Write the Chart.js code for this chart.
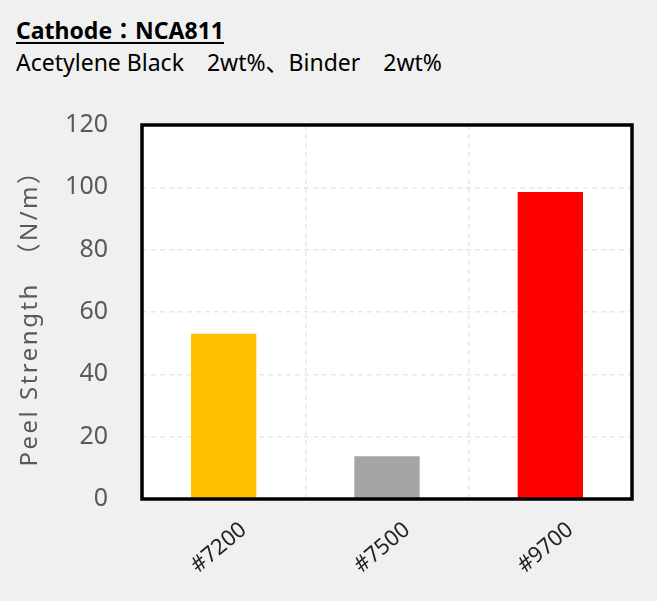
<!DOCTYPE html>
<html><head><meta charset="utf-8">
<script src="https://cdn.jsdelivr.net/npm/chart.js@4.4.1/dist/chart.umd.min.js"></script>
<style>
html,body{margin:0;padding:0;background:#f0f0f0;}
#wrap{position:relative;width:657px;height:601px;}
#t1{position:absolute;left:16px;top:15px;font:bold 23px 'Noto Sans','Noto Sans CJK JP',sans-serif;color:#000;text-decoration:underline;text-underline-offset:3px;white-space:pre;line-height:30px;}
#t2{position:absolute;left:16px;top:47px;font:23px 'Noto Sans','Noto Sans CJK JP',sans-serif;color:#000;white-space:pre;line-height:30px;}
canvas{position:absolute;left:0;top:0;}
</style></head>
<body><div id="wrap">
<div id="t1">Cathode：NCA811</div>
<div id="t2">Acetylene Black　2wt%、Binder　2wt%</div>
<canvas id="c" width="657" height="601"></canvas>
</div>
<script>
const categories = ['#7200', '#7500', '#9700'];
const peelStrength = [53, 13.7, 98.5];
const barColors = ['#FFC000', '#A5A5A5', '#FF0000'];
const yTicks = [0, 20, 40, 60, 80, 100, 120];
const yTitle = 'Peel Strength　（N/m）';
const FONT = "'Noto Sans','Noto Sans CJK JP',sans-serif";

const plotFrame = {
  id: 'plotFrame',
  beforeDraw(chart) {
    const a = chart.chartArea, ctx = chart.ctx;
    ctx.save(); ctx.fillStyle = '#ffffff';
    ctx.fillRect(a.left, a.top, a.right - a.left, a.bottom - a.top);
    ctx.restore();
  },
  afterDraw(chart) {
    const a = chart.chartArea, ctx = chart.ctx;
    ctx.save(); ctx.strokeStyle = '#000'; ctx.lineWidth = 3.5;
    ctx.strokeRect(a.left, a.top, a.right - a.left, a.bottom - a.top);
    ctx.restore();
    // y-axis title with wide letter spacing
    ctx.save();
    ctx.translate(30, (a.top + a.bottom) / 2);
    ctx.rotate(-Math.PI / 2);
    ctx.font = '24px ' + FONT;
    if ('letterSpacing' in ctx) ctx.letterSpacing = '2.5px';
    ctx.fillStyle = '#595959';
    ctx.textAlign = 'center';
    ctx.textBaseline = 'middle';
    ctx.fillText(yTitle, 0, 0);
    ctx.restore();
  }
};

new Chart(document.getElementById('c'), {
  type: 'bar',
  data: { labels: categories, datasets: [{ data: peelStrength, backgroundColor: barColors, barPercentage: 0.4, categoryPercentage: 1 }] },
  plugins: [plotFrame],
  options: {
    responsive: false, animation: false,
    layout: { padding: { left: 0, right: 25, top: 125, bottom: 0 } },
    plugins: { legend: { display: false }, tooltip: { enabled: false } },
    scales: {
      x: {
        afterFit(s) { s.height = 102; },
        grid: { color: '#e8e8e8', lineWidth: 1.5, drawTicks: false, offset: true },
        border: { display: false, dash: [5, 4] },
        ticks: { color: '#222', font: { family: FONT, size: 22 }, minRotation: 40, maxRotation: 40, padding: 18, labelOffset: 20 }
      },
      y: {
        min: 0, max: 120,
        afterFit(s) { s.width = 142; },
        afterBuildTicks(s) { s.ticks = yTicks.map(v => ({ value: v })); },
        grid: { color: '#e8e8e8', lineWidth: 1.5, drawTicks: false },
        border: { display: false, dash: [5, 4] },
        ticks: { color: '#595959', font: { family: FONT, size: 25 }, padding: 34 },
        title: { display: false, text: yTitle }
      }
    }
  }
});
</script>
</body></html>
